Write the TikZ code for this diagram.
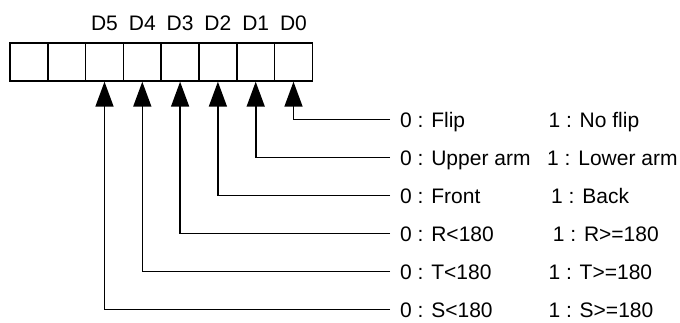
\documentclass[tikz,border=0pt]{standalone}
\usepackage{fontspec}
\setmainfont{Liberation Sans}
\usetikzlibrary{arrows.meta,positioning}
\tikzset{
  cell/.style={draw, line width=1.6pt, minimum size=37.8pt, inner sep=0pt},
  txt/.style={font=\fontsize{21}{25}\selectfont, text height=15pt, text depth=0pt, inner ysep=0pt},
  lefttxt/.style={txt, anchor=west, inner xsep=10pt},
  righttxt/.style={txt, anchor=west, inner xsep=0pt},
  bitlbl/.style={txt, inner xsep=0pt},
  conn/.style={line width=1.6pt, -{Triangle[length=25pt,width=18pt]}}
}
\begin{document}
\begin{tikzpicture}
\useasboundingbox (0,0) rectangle (680pt,-322pt);
% register cells
\node[cell] (c7) at (28.9pt,-62pt) {};
\node[cell] (c6) at (66.7pt,-62pt) {};
\node[cell] (c5) at (104.5pt,-62pt) {};
\node[cell] (c4) at (142.3pt,-62pt) {};
\node[cell] (c3) at (180.1pt,-62pt) {};
\node[cell] (c2) at (217.9pt,-62pt) {};
\node[cell] (c1) at (255.7pt,-62pt) {};
\node[cell] (c0) at (293.5pt,-62pt) {};
% bit labels
\node[bitlbl, above=11.7pt of c5] (d5) {D5};
\node[bitlbl, above=11.7pt of c4] (d4) {D4};
\node[bitlbl, above=11.7pt of c3] (d3) {D3};
\node[bitlbl, above=11.7pt of c2] (d2) {D2};
\node[bitlbl, above=11.7pt of c1] (d1) {D1};
\node[bitlbl, above=11.7pt of c0] (d0) {D0};
% descriptions
\node[lefttxt] (l0) at (390pt,-119.5pt) {0 : Flip};
\node[lefttxt] (l1) at (390pt,-157.5pt) {0 : Upper arm};
\node[lefttxt] (l2) at (390pt,-195.5pt) {0 : Front};
\node[lefttxt] (l3) at (390pt,-233.5pt) {0 : R<180};
\node[lefttxt] (l4) at (390pt,-271.5pt) {0 : T<180};
\node[lefttxt] (l5) at (390pt,-309.5pt) {0 : S<180};
\node[righttxt] (r0) at (548.4pt,-119.5pt) {1 : No flip};
\node[righttxt] (r1) at (547pt,-157.5pt) {1 : Lower arm};
\node[righttxt] (r2) at (551pt,-195.5pt) {1 : Back};
\node[righttxt] (r3) at (552.7pt,-233.5pt) {1 : R>=180};
\node[righttxt] (r4) at (548.4pt,-271.5pt) {1 : T>=180};
\node[righttxt] (r5) at (548.4pt,-309.5pt) {1 : S>=180};
% connectors
\draw[conn] (l0.west) -| (c0.south);
\draw[conn] (l1.west) -| (c1.south);
\draw[conn] (l2.west) -| (c2.south);
\draw[conn] (l3.west) -| (c3.south);
\draw[conn] (l4.west) -| (c4.south);
\draw[conn] (l5.west) -| (c5.south);
\end{tikzpicture}
\end{document}
